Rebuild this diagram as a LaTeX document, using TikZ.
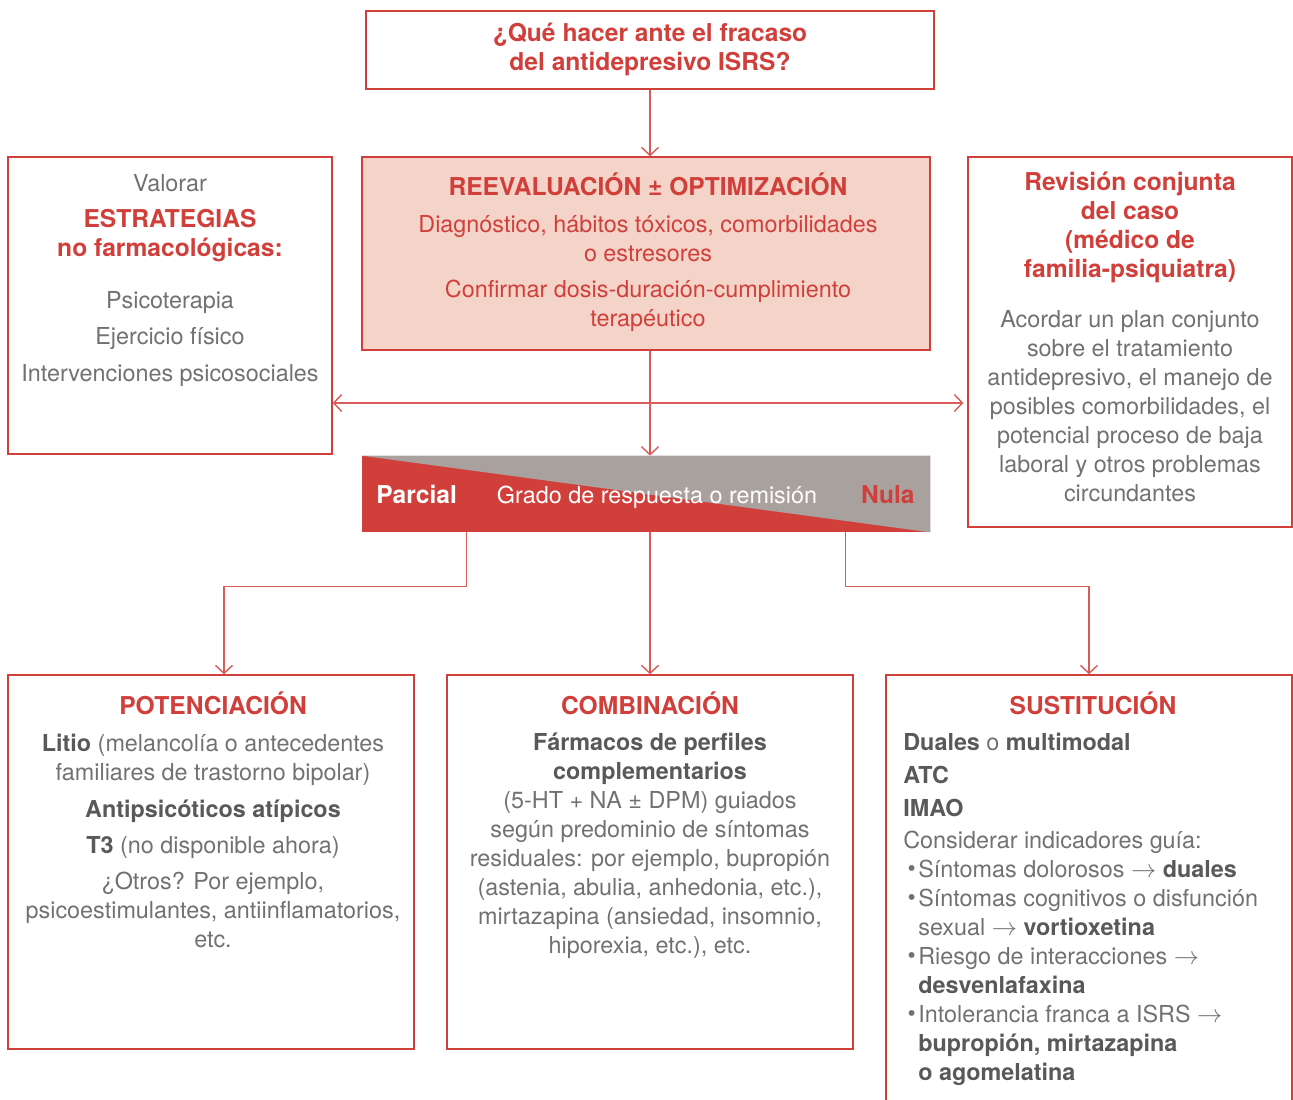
\documentclass[tikz,border=0pt]{standalone}
\usepackage{fontspec}
\setmainfont{TeX Gyre Heros}
\usepackage{tikz}
\usetikzlibrary{arrows.meta,fit}
\definecolor{rojo}{HTML}{D13F3B}
\definecolor{rosa}{HTML}{F4D3C8}
\definecolor{gris}{HTML}{A9A19E}
\definecolor{texto}{HTML}{707173}
\definecolor{negrita}{HTML}{58595B}
\newcommand{\nb}[1]{{\bfseries\color{negrita}#1}}
\newcommand{\vineta}{\makebox[0.3cm][r]{\raisebox{0.5pt}{\textbullet}\kern1.5pt}}

\begin{document}
\begin{tikzpicture}[x=0.02cm,y=-0.02cm,
    caja/.style={draw=rojo,line width=0.8pt,inner sep=0pt},
    txt/.style={font=\fontsize{13.3}{16.5}\selectfont,text=texto,align=center,anchor=base,inner sep=0pt},
    tit/.style={txt,font=\fontsize{14}{16.5}\selectfont\bfseries,text=rojo},
    flecha/.style={draw=rojo!85,line width=0.8pt,>={Straight Barb[length=1.6mm,width=3.4mm]},->}]
  \clip (0,0) rectangle (1293,1099);
  % cajas
  \node[caja,fit={(366,11) (934,89)}] (pregunta) {};
  \node[caja,fill=rosa,fit={(362,157) (930,350)}] (reeval) {};
  \node[caja,fit={(8,157) (332,454)}] (valorar) {};
  \node[caja,fit={(968,157) (1292,527)}] (revision) {};
  \node[fill=rojo,inner sep=0pt,fit={(362,456) (930,532)}] (grado) {};
  \fill[gris] (grado.north west) -- (grado.north east) -- (grado.south east) -- cycle;
  \node[caja,fit={(8,675) (414,1049)}] (potencia) {};
  \node[caja,fit={(447,675) (853,1049)}] (combina) {};
  \node[caja,fit={(886,675) (1292,1130)}] (sustituye) {};

  % textos (base = ultima linea)
  \node[tit] (preguntatxt) at (650,70) {¿Qué hacer ante el fracaso\\del antidepresivo ISRS?};
  \node[tit] (reevaltit) at (648,195) {REEVALUACIÓN ± OPTIMIZACIÓN};
  \node[txt,text=rojo] (reevaltxt) at (648,326) {Diagnóstico, hábitos tóxicos, comorbilidades\\o estresores\\[0.14cm]Confirmar dosis-duración-cumplimiento\\terapéutico};
  \node[txt] (valorartxt) at (170,191) {Valorar};
  \node[tit] (valorartit) at (170,256) {ESTRATEGIAS\\no farmacológicas:};
  \node[txt] (valorarlista) at (170,381) {Psicoterapia\\[0.14cm]Ejercicio físico\\[0.16cm]Intervenciones psicosociales};
  \node[tit] (revisiontit) at (1130,277) {Revisión conjunta\\del caso\\(médico de\\familia-psiquiatra)};
  \node[txt] (revisiontxt) at (1130,501) {Acordar un plan conjunto\\sobre el tratamiento\\antidepresivo, el manejo de\\posibles comorbilidades, el\\potencial proceso de baja\\laboral y otros problemas\\circundantes};
  \node[tit,text=white,anchor=base west] (parcial) at (376,503) {Parcial};
  \node[txt,text=white] (gradotxt) at (657,503) {Grado de respuesta o remisión};
  \node[tit,anchor=base east] (nula) at (915,503) {Nula};

  \node[tit] (potenciatit) at (213,714) {POTENCIACIÓN};
  \node[txt] (potenciatxt) at (213,947) {\nb{Litio} (melancolía o antecedentes\\familiares de trastorno bipolar)\\[0.16cm]\nb{Antipsicóticos atípicos}\\[0.14cm]\nb{T3} (no disponible ahora)\\[0.14cm]¿Otros? Por ejemplo,\\psicoestimulantes, antiinflamatorios,\\etc.};
  \node[tit] (combinatit) at (650,714) {COMBINACIÓN};
  \node[txt] (combinatxt) at (650,953) {\nb{Fármacos de perfiles}\\\nb{complementarios}\\(5-HT + NA ± DPM) guiados\\según predominio de síntomas\\residuales: por ejemplo, bupropión\\(astenia, abulia, anhedonia, etc.),\\mirtazapina (ansiedad, insomnio,\\hiporexia, etc.), etc.};
  \node[tit] (sustituyetit) at (1093,714) {SUSTITUCIÓN};
  \node[txt,align=left,anchor=base west] (sustituyetxt) at (903,1080) {\nb{Duales} o \nb{multimodal}\\[0.08cm]\nb{ATC}\\[0.08cm]\nb{IMAO}\\[0.06cm]Considerar indicadores guía:\\\vineta Síntomas dolorosos $\rightarrow$ \nb{duales}\\\vineta Síntomas cognitivos o disfunción\\\hspace*{0.3cm}sexual $\rightarrow$ \nb{vortioxetina}\\\vineta Riesgo de interacciones $\rightarrow$\\\hspace*{0.3cm}\nb{desvenlafaxina}\\\vineta Intolerancia franca a ISRS $\rightarrow$\\\hspace*{0.3cm}\nb{bupropión, mirtazapina}\\\hspace*{0.3cm}\nb{o agomelatina}};

  % flechas
  \coordinate (cruce) at (650,403);
  \draw[flecha] (pregunta.south) -- (pregunta.south |- reeval.north);
  \draw[flecha] (cruce |- reeval.south) -- (cruce |- grado.north);
  \draw[flecha,<->] (valorar.east |- cruce) -- ([xshift=-0.08cm]revision.west |- cruce);
  \draw[flecha] (grado.south west) ++(105,0) -- ++(0,54) -| ([xshift=0.26cm]potencia.north);
  \draw[flecha] (grado.south -| combina.north) -- (combina.north);
  \draw[flecha] (grado.south east) ++(-85,0) -- ++(0,54) -| (sustituye.north);
\end{tikzpicture}
\end{document}
